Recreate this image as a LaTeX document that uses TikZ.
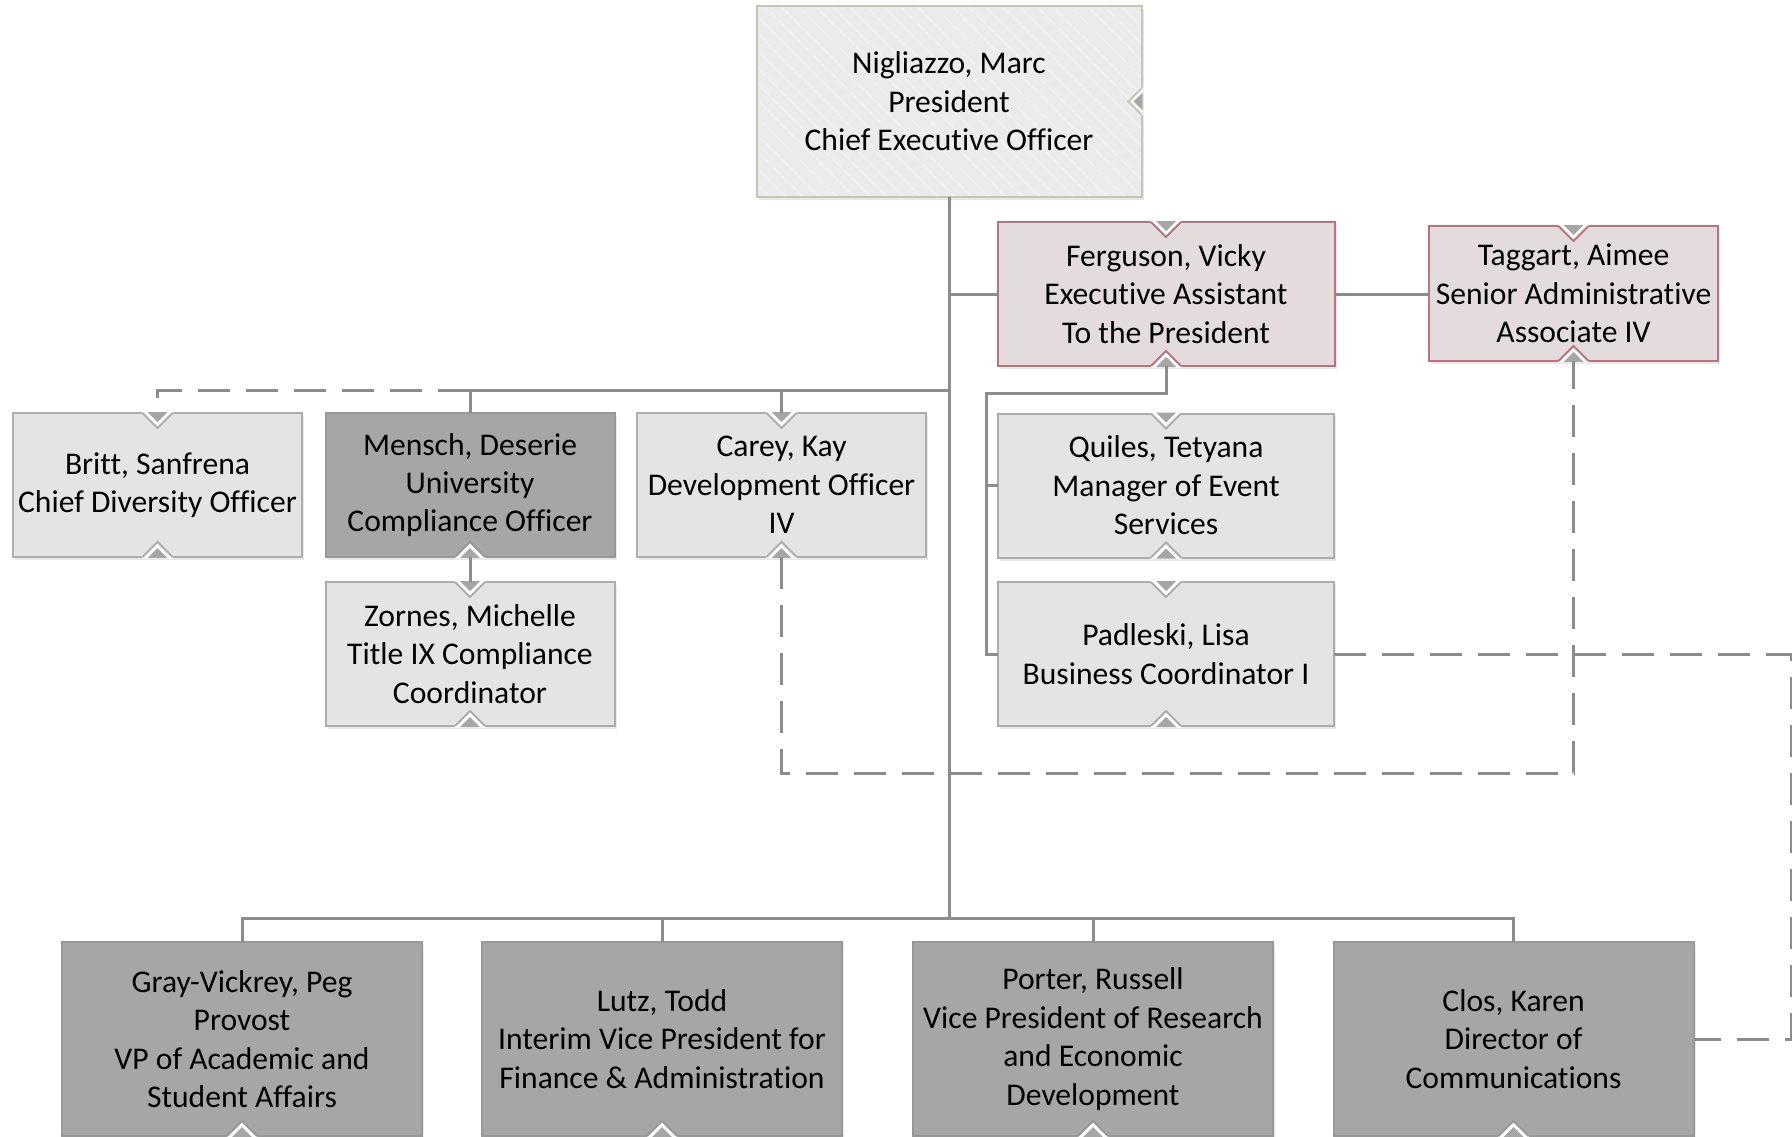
\documentclass[tikz,border=0pt]{standalone}
\usepackage{fontspec}
\setmainfont{Carlito}[Ligatures=NoCommon]
\usetikzlibrary{shadows,patterns.meta}

\definecolor{linegray}{HTML}{8C8C8C}
\definecolor{lightfill}{HTML}{E4E4E4}
\definecolor{lightedge}{HTML}{ADADAD}
\definecolor{darkfill}{HTML}{A6A6A6}
\definecolor{darkedge}{HTML}{989898}
\definecolor{pinkfill}{HTML}{E4DCDC}
\definecolor{pinkedge}{HTML}{B8747C}
\definecolor{presfill}{HTML}{EBEBEB}
\definecolor{presstripe}{HTML}{EFEFEF}
\definecolor{presedge}{HTML}{C9C5B5}
\definecolor{notchgray}{HTML}{A6A6A6}

\tikzset{
    conn/.style={draw=linegray, line width=1.5pt},
    dashconn/.style={conn, dash pattern=on 16pt off 8pt},
    box/.style={rectangle, line width=1pt, align=center, inner sep=0pt, outer sep=0pt,
        font=\fontsize{15.8}{19.2}\selectfont,
        drop shadow={shadow xshift=1.2pt, shadow yshift=-1.5pt, opacity=0.18}},
    lightbox/.style={box, fill=lightfill, draw=lightedge, minimum width=144.5pt, minimum height=72pt},
    widebox/.style={lightbox, minimum width=168pt},
    pinkbox/.style={box, fill=pinkfill, draw=pinkedge, minimum height=72pt},
    darkbox/.style={box, fill=darkfill, draw=darkedge, minimum width=144.5pt, minimum height=72pt},
    vpbox/.style={darkbox, minimum width=180pt, minimum height=97pt},
}

%% little collapse marks on the box edges
\newcommand\notchtop[2]{%
    \begin{scope}[shift={#1}]
        \fill[white] (-16,-1.5) -- (16,-1.5) -- (0,15) -- cycle;
        \fill[notchgray] (-10,-1) -- (10,-1) -- (0,9) -- cycle;
        \draw[#2, line width=1pt] (-15,0) -- (0,15) -- (15,0);
    \end{scope}}
\newcommand\notchbot[2]{%
    \begin{scope}[shift={#1}]
        \fill[white] (-16,1.5) -- (16,1.5) -- (0,-15) -- cycle;
        \fill[notchgray] (-10,1) -- (10,1) -- (0,-9) -- cycle;
        \draw[#2, line width=1pt] (-15,0) -- (0,-15) -- (15,0);
    \end{scope}}
\newcommand\notchside[2]{%
    \begin{scope}[shift={#1}]
        \fill[white] (1.5,-14) -- (1.5,14) -- (-14,0) -- cycle;
        \fill[notchgray] (1,-9) -- (1,9) -- (-8,0) -- cycle;
        \draw[#2, line width=1pt] (0,-13) -- (-13,0) -- (0,13);
    \end{scope}}

\begin{document}
\begin{tikzpicture}[x=0.5pt,y=-0.5pt]
    \useasboundingbox (0,0) rectangle (1792,1136);
    \clip (0,0) rectangle (1792,1136);
    \fill[white] (0,0) rectangle (1792,1136);

    %% president
    \node[box, fill=presfill, draw=presedge, minimum width=192.5pt, minimum height=95.5pt,
        postaction={pattern={Lines[angle=-45,distance=6.5pt,line width=1.5pt]}, pattern color=presstripe},
        postaction={draw=presedge, line width=1pt}]
        (pres) at (949,101.5) {Nigliazzo, Marc\\President\\Chief Executive Officer};

    %% assistants
    \node[pinkbox, minimum width=168.5pt] (ferg) at (1166,294) {Ferguson, Vicky\\Executive Assistant\\To the President};
    \node[pinkbox, minimum width=144.5pt, minimum height=67.5pt] (tagg) at (1573.5,293.5) {Taggart, Aimee\\Senior Administrative\\Associate IV};

    %% middle row
    \node[lightbox] (britt) at (157.5,485) {Britt, Sanfrena\\Chief Diversity Officer};
    \node[darkbox] (mensch) at (470,485) {Mensch, Deserie\\University\\Compliance Officer};
    \node[lightbox] (carey) at (781.5,485) {Carey, Kay\\Development Officer\\IV};
    \node[lightbox] (zornes) at (470,654) {Zornes, Michelle\\Title IX Compliance\\Coordinator};
    \node[widebox] (quiles) at (1166,485.5) {Quiles, Tetyana\\Manager of Event\\Services};
    \node[widebox] (padl) at (1166,654) {Padleski, Lisa\\Business Coordinator I};

    %% vice presidents
    \node[vpbox] (gray) at (242,1039) {Gray-Vickrey, Peg\\Provost\\VP of Academic and\\Student Affairs};
    \node[vpbox] (lutz) at (662,1039) {Lutz, Todd\\Interim Vice President for\\Finance \& Administration};
    \node[vpbox] (porter) at (1093,1039) {Porter, Russell\\Vice President of Research\\and Economic\\Development};
    \node[vpbox] (clos) at (1513.5,1039) {Clos, Karen\\Director of\\Communications};

    %% marks
    \notchside{(pres.east)}{presedge}
    \foreach \n/\c in {ferg/pinkedge, tagg/pinkedge, britt/lightedge, zornes/lightedge,
                       carey/lightedge, quiles/lightedge, padl/lightedge}
        \notchtop{(\n.north)}{\c};
    \foreach \n/\c in {ferg/pinkedge, tagg/pinkedge, britt/lightedge, mensch/darkedge, zornes/lightedge,
                       carey/lightedge, quiles/lightedge, padl/lightedge,
                       gray/darkedge, lutz/darkedge, porter/darkedge, clos/darkedge}
        \notchbot{(\n.south)}{\c};

    %% solid lines
    \coordinate (ubus) at (949,390);
    \coordinate (lbus) at (949,918);
    \coordinate (fk) at (986,393);
    \draw[conn] (pres.south) -- (lbus);
    \draw[conn] (pres.south |- ferg.west) -- (ferg.west);
    \draw[conn] (ferg.east) -- (ferg.east -| tagg.west);
    \draw[conn] (ubus) -| (mensch.north);
    \draw[conn] (ubus -| carey.north) -- (carey.north);
    \draw[conn] (mensch.south) -- (zornes.north);
    \draw[conn] (ferg.south) -- (ferg.south |- fk) -- (fk) |- (padl.west);
    \draw[conn] (fk |- quiles.west) -- (quiles.west);
    \draw[conn] (gray.north) |- (clos.north |- lbus) -- (clos.north);
    \draw[conn] (lutz.north) -- (lutz.north |- lbus);
    \draw[conn] (porter.north) -- (porter.north |- lbus);

    %% dashed lines
    \coordinate (dl) at (949,773);
    \coordinate (re) at (1791,654);
    \draw[dashconn] (mensch.north |- ubus) -| (britt.north);
    \draw[dashconn] (carey.south) |- (tagg.south |- dl) -- (tagg.south);
    \draw[dashconn] (padl.east) -- (re) |- (clos.east);
\end{tikzpicture}
\end{document}
